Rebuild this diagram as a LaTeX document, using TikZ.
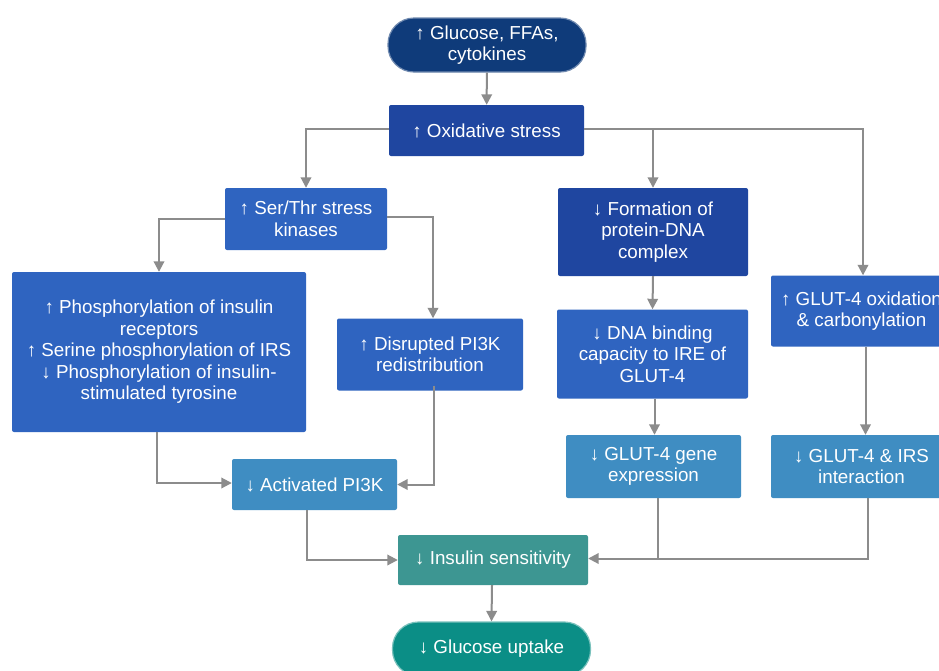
\documentclass[tikz,border=0pt]{standalone}
\usepackage{fontspec}
\setmainfont{Liberation Sans}
\usetikzlibrary{arrows.meta}
\definecolor{navy}{HTML}{0F3B7A}
\definecolor{dblue}{HTML}{1F46A0}
\definecolor{mblue}{HTML}{2F64C0}
\definecolor{lblue}{HTML}{3F8DC2}
\definecolor{tealbox}{HTML}{3D9692}
\definecolor{tealpill}{HTML}{0B8E86}
\definecolor{conn}{HTML}{8C8C8C}
\tikzset{
  box/.style={rectangle, rounded corners=2pt, inner sep=0pt, text=white, align=center,
    font=\fontsize{18.8}{21.5}\selectfont},
  pill/.style={box, rounded corners=26pt, line width=1.2pt},
  arr/.style={draw=conn, line width=2pt, -{Triangle[length=10.5pt,width=10.5pt]}},
  ln/.style={draw=conn, line width=2pt},
}
\begin{document}
\begin{tikzpicture}[x=1pt,y=-1pt]
\clip (0,0) rectangle (939,670);
\fill[white] (0,0) rectangle (939,670);
\node[pill, fill=navy, draw=navy!60!white, minimum width=198pt, minimum height=54pt] (top) at (487,45) {↑ Glucose, FFAs,\\cytokines};
\node[box, fill=dblue, minimum width=195pt, minimum height=51pt] (ox) at (486.5,130.5) {↑ Oxidative stress};
\node[box, fill=mblue, minimum width=162pt, minimum height=62pt] (ser) at (306,219) {↑ Ser/Thr stress\\kinases};
\node[box, fill=mblue, minimum width=294pt, minimum height=160pt] (big) at (159,352) {↑ Phosphorylation of insulin\\receptors\\↑ Serine phosphorylation of IRS\\↓ Phosphorylation of insulin-\\stimulated tyrosine};
\node[box, fill=mblue, minimum width=186pt, minimum height=72pt] (dis) at (430,354.5) {↑ Disrupted PI3K\\redistribution};
\node[box, fill=lblue, minimum width=165pt, minimum height=51pt] (pik) at (314.5,484.5) {↓ Activated PI3K};
\node[box, fill=dblue, minimum width=190pt, minimum height=88pt] (form) at (653,232) {↓ Formation of\\protein-DNA\\complex};
\node[box, fill=mblue, minimum width=191pt, minimum height=89pt] (dna) at (652.5,354) {↓ DNA binding\\capacity to IRE of\\GLUT-4};
\node[box, fill=lblue, minimum width=175pt, minimum height=63pt] (gene) at (653.5,466.5) {↓ GLUT-4 gene\\expression};
\node[box, fill=mblue, minimum width=181pt, minimum height=71pt] (gox) at (861.5,311) {↑ GLUT-4 oxidation\\\& carbonylation};
\node[box, fill=lblue, minimum width=181pt, minimum height=63pt] (girs) at (861.5,466.5) {↓ GLUT-4 \& IRS\\interaction};
\node[box, fill=tealbox, minimum width=190pt, minimum height=50pt] (ins) at (493,560) {↓ Insulin sensitivity};
\node[pill, fill=tealpill, draw=tealpill!55!white, minimum width=198pt, minimum height=54pt] (up) at (491.5,649) {↓ Glucose uptake};

\coordinate (br) at ([yshift=2pt]ox.east -| form.north);
\draw[arr] (top) -- (ox);
\draw[arr] ([yshift=2pt]ox.west) -| (ser.north);
\draw[arr] ([yshift=2pt]ox.east) -| ([xshift=1.5pt]gox.north);
\draw[arr] (br) -- (form.north);
\draw[arr] (ser.west) -| (big.north);
\draw[arr] ([yshift=2pt]ser.east) -| ([xshift=3pt]dis.north);
\draw[arr] ([xshift=-2pt]big.south) |- ([yshift=1.5pt]pik.west);
\draw[arr] ([xshift=4pt,yshift=5pt]dis.south) |- (pik.east);
\draw[arr] (form.south) -- (dna.north);
\draw[arr] ([xshift=2pt]dna.south) -- ([xshift=1pt]gene.north);
\draw[arr] ([xshift=4pt]gox.south) -- ([xshift=4pt]girs.north);
\draw[arr] ([xshift=-7.5pt]pik.south) |- (ins.west);
\draw[ln] ([xshift=4.5pt]gene.south) |- ([yshift=1.5pt]ins.east -| girs.south);
\draw[arr] ([xshift=6.5pt]girs.south) |- ([yshift=1.5pt]ins.east);
\draw[arr] ([xshift=-1pt]ins.south) -- (up.north);
\end{tikzpicture}
\end{document}
